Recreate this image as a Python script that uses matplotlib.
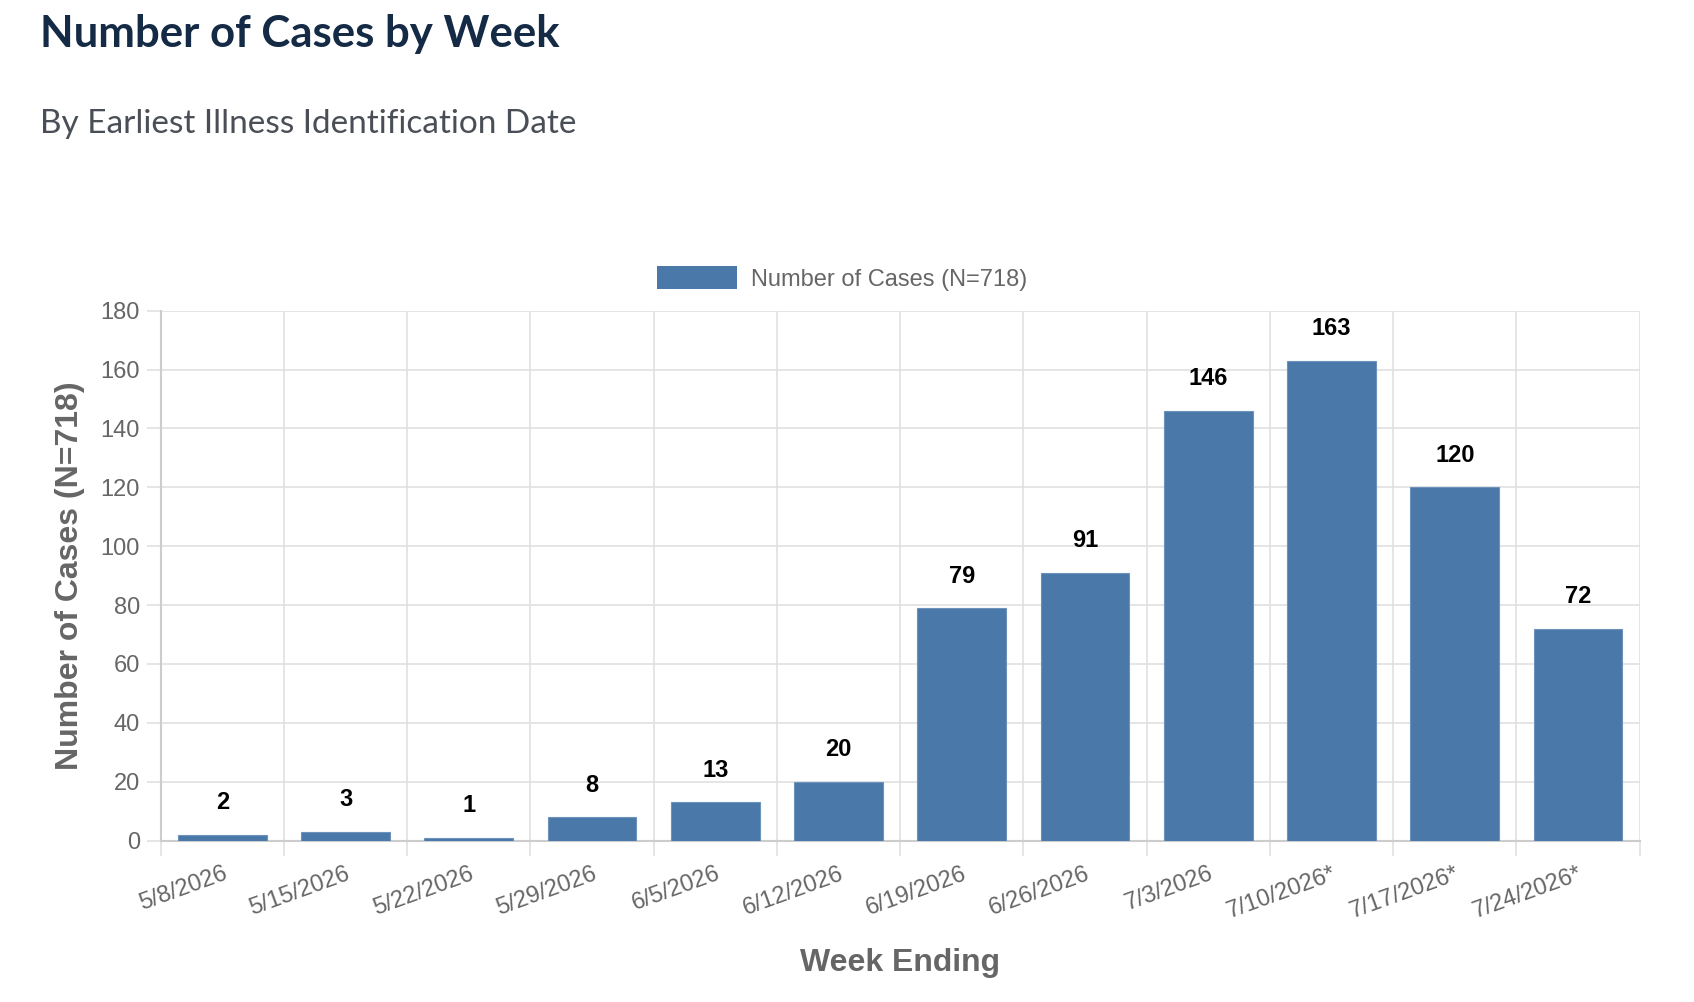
import matplotlib.pyplot as plt
from matplotlib.patches import Patch

# Weekly case counts
weeks = ["5/8/2026", "5/15/2026", "5/22/2026", "5/29/2026", "6/5/2026", "6/12/2026",
         "6/19/2026", "6/26/2026", "7/3/2026", "7/10/2026*", "7/17/2026*", "7/24/2026*"]
cases = [2, 3, 1, 8, 13, 20, 79, 91, 146, 163, 120, 72]
y_ticks = [0, 20, 40, 60, 80, 100, 120, 140, 160, 180]

bar_color = "#4a78a8"
grid_color = "#e0e0e0"
text_gray = "#666666"

fig = plt.figure(figsize=(16.94, 10.02), dpi=100)
ax = fig.add_axes([0.0949, 0.161, 0.873, 0.529])

x = list(range(len(weeks)))
bars = ax.bar(x, cases, width=0.72, color=bar_color, edgecolor="#6d93bd", linewidth=0.8, zorder=3)

for xi, v in zip(x, cases):
    ax.annotate(str(v), (xi, v), xytext=(0, 23), textcoords="offset points",
                ha="center", va="center", fontsize=17, fontweight="bold",
                family="Liberation Sans", color="black")

ax.set_xlim(-0.5, len(weeks) - 0.5)
ax.set_ylim(0, 180)
ax.set_yticks(y_ticks)
ax.set_yticklabels([str(t) for t in y_ticks], fontsize=17, family="Liberation Sans", color=text_gray)
ax.set_xticks(x)
ax.set_xticklabels(weeks, rotation=20, ha="right", rotation_mode="anchor",
                   fontsize=17, family="Liberation Sans", color=text_gray)
ax.set_xticks([i - 0.5 for i in range(len(weeks) + 1)], minor=True)

ax.tick_params(axis="x", which="major", length=0, pad=16)
ax.tick_params(axis="x", which="minor", length=11, width=1.2, color=grid_color)
ax.tick_params(axis="y", length=10, width=1.2, color=grid_color, pad=5)

ax.grid(axis="y", which="major", color=grid_color, linewidth=1.2, zorder=0)
ax.grid(axis="x", which="minor", color=grid_color, linewidth=1.2, zorder=0)
ax.set_axisbelow(True)

for side in ["top", "right"]:
    ax.spines[side].set_visible(False)
ax.spines["left"].set_color("#cccccc")
ax.spines["left"].set_linewidth(1.5)
ax.spines["bottom"].set_color("#cccccc")
ax.spines["bottom"].set_linewidth(1.5)

ax.set_ylabel("Number of Cases (N=718)", fontsize=23, fontweight="bold",
              family="Liberation Sans", color=text_gray)
ax.yaxis.set_label_coords(-0.051, 0.5)
ax.set_xlabel("Week Ending", fontsize=23, fontweight="bold",
              family="Liberation Sans", color=text_gray)
ax.xaxis.set_label_coords(0.5, -0.203)

leg = fig.legend(handles=[Patch(facecolor=bar_color, label="Number of Cases (N=718)")],
                 loc="center", bbox_to_anchor=(0.497, 0.722), frameon=False,
                 handlelength=3.4, handleheight=1.1, handletextpad=0.6,
                 prop={"family": "Liberation Sans", "size": 17})
for t in leg.get_texts():
    t.set_color(text_gray)

fig.text(0.0237, 0.966, "Number of Cases by Week", fontsize=31.5, fontweight="bold",
         family="Lato", color="#152a45", va="center", ha="left")
fig.text(0.0237, 0.876, "By Earliest Illness Identification Date", fontsize=24,
         family="Lato", color="#4a4f57", va="center", ha="left")

fig.savefig("out.png", dpi=100)
